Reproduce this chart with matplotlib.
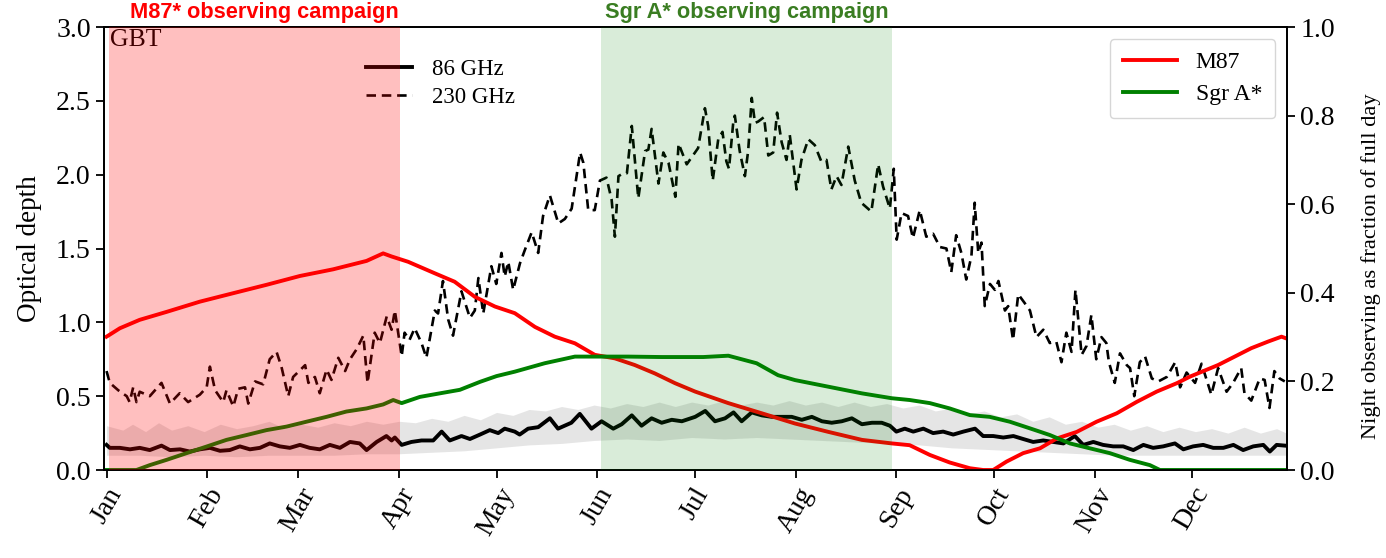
import matplotlib
matplotlib.use("Agg")
import matplotlib.pyplot as plt
import matplotlib.transforms as mtransforms
import numpy as np

plt.rcParams['font.family'] = ['Liberation Serif', 'DejaVu Serif']
plt.rcParams['mathtext.fontset'] = 'stix'

# ---------------- data ----------------
month_labels = ['Jan', 'Feb', 'Mar', 'Apr', 'May', 'Jun',
                'Jul', 'Aug', 'Sep', 'Oct', 'Nov', 'Dec']
month_days = [0, 31, 59, 90, 120, 151, 181, 212, 243, 273, 304, 334]

# 230 GHz optical depth (day of year, tau)
day230 = [0, 1.0, 3.6, 6.2, 7.1, 8.2, 9.2, 10.2, 13.3, 16.9,
          19.5, 22.5, 25.1, 28.7, 30.8, 31.8, 33.4, 35.9, 36.9, 39.0,
          40.5, 42.6, 43.6, 45.7, 48.2, 50.2, 52.3, 53.8, 55.9, 57.4,
          61.1, 62.1, 64.1, 65.6, 67.7, 69.2, 71.3, 73.4, 74.9, 77.0,
          79.0, 80.3, 82.5, 84.1, 86.2, 87.7, 88.7, 90.8, 91.7, 93.2,
          94.8, 96.9, 98.4, 101.0, 102.0, 103.5, 105.1, 106.6, 109.2, 111.8,
          113.3, 114.4, 115.9, 118.4, 119.9, 121.5, 122.5, 123.6, 125.1, 127.2,
          128.7, 130.8, 132.8, 134.3, 136.4, 139.0, 141.0, 143.1, 145.7, 146.7,
          148.2, 150.2, 151.8, 153.8, 155.4, 156.4, 157.5, 159.0, 160.1, 161.6,
          163.6, 165.7, 166.7, 167.7, 169.8, 171.3, 172.9, 175.0, 176.0, 178.5,
          182.0, 184.1, 185.1, 186.5, 188.2, 189.5, 190.7, 191.5, 192.8, 193.3,
          194.8, 196.4, 197.4, 198.5, 199.5, 200.5, 202.3, 203.6, 205.1, 206.3,
          207.7, 209.2, 210.2, 212.3, 213.8, 215.9, 217.9, 219.9, 221.5, 223.0,
          224.6, 226.1, 228.2, 230.2, 232.2, 235.3, 237.4, 238.9, 241.0, 242.2,
          243.1, 244.6, 246.6, 248.1, 250.2, 252.2, 254.3, 256.4, 258.4, 259.9,
          261.4, 263.0, 264.5, 266.1, 267.1, 268.2, 269.2, 270.2, 271.8, 273.3,
          274.4, 276.4, 277.4, 278.9, 280.5, 282.5, 284.1, 286.1, 288.2, 290.2,
          292.2, 293.8, 295.3, 296.9, 298.1, 300.0, 301.5, 303.0, 304.5, 306.1,
          307.6, 308.4, 310.2, 311.8, 313.9, 314.9, 316.2, 317.9, 319.5, 321.6,
          323.6, 326.2, 328.8, 330.3, 332.3, 334.9, 336.9, 339.9, 342.0, 344.6,
          346.6, 349.1, 350.1, 352.2, 354.8, 356.3, 357.8, 359.3, 360.9, 362.5]
tau230 = [0.67, 0.59, 0.54, 0.50, 0.46, 0.56, 0.46, 0.53, 0.50, 0.59,
          0.45, 0.52, 0.46, 0.51, 0.56, 0.70, 0.54, 0.46, 0.54, 0.43,
          0.55, 0.56, 0.45, 0.60, 0.58, 0.75, 0.80, 0.70, 0.50, 0.63,
          0.71, 0.59, 0.63, 0.52, 0.68, 0.61, 0.76, 0.67, 0.75, 0.82,
          0.91, 0.59, 0.93, 0.86, 1.04, 0.95, 1.08, 0.77, 0.93, 0.88,
          0.96, 0.86, 0.76, 1.08, 1.06, 1.28, 1.02, 0.91, 1.21, 1.03,
          1.08, 1.30, 1.06, 1.38, 1.26, 1.47, 1.31, 1.41, 1.22, 1.40,
          1.49, 1.61, 1.47, 1.72, 1.86, 1.67, 1.70, 1.77, 2.15, 2.08,
          1.76, 1.76, 1.96, 1.98, 1.83, 1.58, 1.99, 2.01, 2.01, 2.33,
          1.84, 2.16, 2.17, 2.31, 1.94, 2.15, 2.08, 1.85, 2.21, 2.07,
          2.18, 2.45, 2.33, 1.96, 2.24, 2.29, 2.09, 2.04, 2.35, 2.40,
          2.16, 1.99, 2.16, 2.52, 2.35, 2.36, 2.39, 2.13, 2.15, 2.42,
          2.22, 2.10, 2.27, 1.90, 2.10, 2.24, 2.20, 2.09, 2.10, 1.90,
          1.99, 1.93, 2.19, 1.96, 1.81, 1.75, 2.07, 1.92, 1.77, 2.04,
          1.56, 1.74, 1.72, 1.57, 1.76, 1.58, 1.60, 1.51, 1.50, 1.34,
          1.59, 1.47, 1.29, 1.45, 1.81, 1.47, 1.54, 1.11, 1.26, 1.22,
          1.28, 1.08, 1.11, 0.88, 1.19, 1.13, 1.08, 0.90, 0.95, 0.86,
          0.87, 0.73, 0.93, 0.80, 1.22, 0.78, 0.84, 1.05, 0.75, 0.90,
          0.86, 0.73, 0.59, 0.79, 0.71, 0.69, 0.50, 0.73, 0.77, 0.62,
          0.60, 0.63, 0.73, 0.56, 0.66, 0.59, 0.72, 0.51, 0.69, 0.53,
          0.59, 0.69, 0.52, 0.47, 0.62, 0.61, 0.42, 0.67, 0.62, 0.60]

# 86 GHz optical depth
day86 = [0, 1.0, 4.1, 7.2, 10.2, 13.3, 16.9, 19.5, 22.6, 25.6,
         28.7, 31.8, 34.9, 37.9, 41.0, 44.1, 47.2, 50.2, 53.3, 56.4,
         59.5, 62.5, 65.6, 68.7, 71.8, 74.9, 77.9, 80.0, 83.1, 86.1,
         87.7, 88.7, 90.8, 93.8, 96.9, 100.5, 103.1, 105.6, 109.2, 111.8,
         114.9, 117.9, 120.5, 122.5, 125.6, 127.1, 129.7, 132.8, 136.4, 138.9,
         143.0, 145.6, 149.2, 152.3, 155.9, 158.5, 161.6, 164.6, 167.7, 170.8,
         173.9, 177.0, 181.1, 184.2, 187.2, 190.3, 192.9, 195.4, 198.5, 201.6,
         204.7, 207.8, 210.8, 213.9, 217.0, 220.1, 223.1, 226.2, 229.3, 232.4,
         235.5, 238.5, 241.0, 243.0, 245.6, 248.2, 251.3, 254.3, 257.4, 260.5,
         263.6, 267.2, 269.7, 272.8, 275.9, 279.0, 282.0, 285.1, 288.2, 291.3,
         294.4, 297.9, 300.5, 303.6, 306.6, 309.7, 312.8, 315.9, 319.0, 322.0,
         325.1, 328.7, 331.3, 334.3, 337.4, 340.5, 343.6, 346.7, 349.7, 352.8,
         355.9, 357.9, 360.0, 362.6]
tau86 = [0.17, 0.15, 0.15, 0.14, 0.15, 0.135, 0.165, 0.135, 0.14, 0.125,
         0.14, 0.15, 0.13, 0.135, 0.16, 0.14, 0.15, 0.18, 0.16, 0.15,
         0.17, 0.15, 0.14, 0.17, 0.15, 0.19, 0.18, 0.135, 0.19, 0.23,
         0.20, 0.22, 0.17, 0.19, 0.20, 0.20, 0.26, 0.20, 0.23, 0.21,
         0.24, 0.27, 0.25, 0.28, 0.26, 0.24, 0.28, 0.29, 0.35, 0.28,
         0.32, 0.38, 0.28, 0.33, 0.28, 0.31, 0.37, 0.30, 0.35, 0.32,
         0.34, 0.33, 0.36, 0.40, 0.33, 0.35, 0.39, 0.33, 0.39, 0.37,
         0.36, 0.36, 0.36, 0.34, 0.36, 0.33, 0.32, 0.33, 0.35, 0.31,
         0.32, 0.32, 0.30, 0.26, 0.28, 0.26, 0.28, 0.25, 0.26, 0.24,
         0.26, 0.28, 0.23, 0.23, 0.22, 0.23, 0.21, 0.19, 0.20, 0.19,
         0.18, 0.23, 0.17, 0.19, 0.17, 0.16, 0.16, 0.135, 0.17, 0.15,
         0.16, 0.18, 0.14, 0.16, 0.17, 0.15, 0.15, 0.17, 0.135, 0.16,
         0.17, 0.125, 0.17, 0.165]

# 86 GHz spread (shaded band)
band_day_hi = [0, 5, 8, 12, 16, 20, 25, 30, 35, 40, 45, 50, 55, 60, 65, 70,
               75, 80, 85, 90, 95, 100, 105, 110, 115, 120, 125, 130, 135, 140,
               145, 150, 155, 160, 165, 170, 175, 180, 185, 190, 195, 200, 205,
               210, 215, 220, 225, 230, 235, 240, 245, 250, 255, 260, 265, 270,
               275, 280, 285, 290, 295, 300, 305, 310, 315, 320, 325, 330, 335,
               340, 345, 350, 355, 360, 363]
band_hi = [0.30, 0.27, 0.31, 0.26, 0.32, 0.27, 0.30, 0.26, 0.31, 0.28, 0.30,
           0.33, 0.28, 0.31, 0.29, 0.32, 0.30, 0.33, 0.31, 0.33, 0.32, 0.35,
           0.33, 0.37, 0.34, 0.39, 0.37, 0.41, 0.40, 0.43, 0.41, 0.44, 0.42,
           0.45, 0.43, 0.46, 0.43, 0.46, 0.44, 0.47, 0.44, 0.46, 0.44, 0.47,
           0.44, 0.46, 0.43, 0.46, 0.43, 0.45, 0.42, 0.44, 0.40, 0.42, 0.38,
           0.40, 0.36, 0.38, 0.33, 0.36, 0.31, 0.33, 0.29, 0.31, 0.27, 0.30,
           0.26, 0.29, 0.26, 0.28, 0.25, 0.29, 0.25, 0.28, 0.25]
band_day_lo = [0, 10, 20, 30, 40, 50, 60, 70, 80, 90, 100, 110, 120, 130, 140,
               150, 160, 170, 180, 190, 200, 210, 220, 230, 240, 250, 260, 270,
               280, 290, 300, 310, 320, 330, 340, 350, 363]
band_lo = [0.10, 0.10, 0.09, 0.10, 0.09, 0.10, 0.10, 0.10, 0.11, 0.11, 0.12,
           0.13, 0.15, 0.17, 0.18, 0.20, 0.21, 0.20, 0.22, 0.21, 0.22, 0.21,
           0.20, 0.19, 0.18, 0.17, 0.15, 0.14, 0.13, 0.12, 0.11, 0.10, 0.10,
           0.10, 0.10, 0.10, 0.10]

# night observing fraction
day_m87 = [0, 4.1, 10.2, 18.5, 28.7, 38.9, 49.2, 59.5, 69.7, 80.0,
           85.1, 87.7, 92.8, 101.0, 107.1, 113.3, 119.5, 125.6, 131.8, 137.9,
           144.1, 150.2, 156.4, 162.5, 168.7, 174.9, 181.1, 191.3, 201.6, 211.8,
           222.1, 232.4, 241.6, 247.1, 253.3, 259.4, 265.6, 269.7, 272.8, 276.9,
           282.0, 287.2, 292.3, 298.5, 304.6, 310.8, 317.0, 323.1, 329.3, 333.4,
           342.0, 352.2, 357.4, 361.5, 363.0]
frac_m87 = [0.301, 0.320, 0.339, 0.357, 0.380, 0.399, 0.418, 0.438, 0.453, 0.472,
            0.489, 0.482, 0.470, 0.444, 0.425, 0.391, 0.369, 0.354, 0.323, 0.301,
            0.286, 0.260, 0.252, 0.237, 0.218, 0.196, 0.177, 0.151, 0.128, 0.105,
            0.086, 0.068, 0.060, 0.056, 0.034, 0.017, 0.004, 0.0, 0.0, 0.019,
            0.038, 0.049, 0.071, 0.086, 0.109, 0.128, 0.154, 0.177, 0.196, 0.211,
            0.237, 0.275, 0.290, 0.301, 0.297]
day_sgra = [0, 9.2, 13.3, 18.5, 24.6, 30.8, 36.9, 43.1, 49.2, 55.4,
            61.5, 67.7, 73.8, 80.0, 85.1, 88.2, 90.8, 96.4, 102.5, 108.7,
            114.9, 120.0, 125.6, 134.8, 144.1, 150.2, 160.5, 170.8, 183.6, 191.3,
            200.0, 206.6, 211.8, 222.1, 232.4, 241.6, 247.1, 253.3, 259.4, 265.6,
            271.7, 277.9, 284.1, 290.2, 296.4, 302.5, 308.7, 314.8, 321.0, 324.1,
            363.0]
frac_sgra = [0, 0, 0.011, 0.023, 0.038, 0.053, 0.068, 0.079, 0.090, 0.098,
             0.109, 0.120, 0.132, 0.139, 0.148, 0.158, 0.151, 0.165, 0.173, 0.181,
             0.199, 0.212, 0.222, 0.241, 0.256, 0.256, 0.256, 0.255, 0.255, 0.258,
             0.241, 0.214, 0.203, 0.188, 0.173, 0.162, 0.158, 0.151, 0.139, 0.124,
             0.120, 0.109, 0.094, 0.079, 0.060, 0.049, 0.038, 0.023, 0.011, 0,
             0]

m87_campaign = (0.7, 90.2)
sgra_campaign = (152.1, 241.6)

# ---------------- figure ----------------
fig = plt.figure(figsize=(13.86, 5.58), dpi=100)
ax = fig.add_axes([0.075, 0.1577, 0.8536, 0.7939])

grid = np.arange(0, 363.5, 0.5)
ax.fill_between(grid, np.interp(grid, band_day_lo, band_lo),
                np.interp(grid, band_day_hi, band_hi),
                color='gray', alpha=0.2, lw=0)
l86, = ax.plot(day86, tau86, color='black', lw=2.8, label='86 GHz')
l230, = ax.plot(day230, tau230, color='black', lw=1.9, ls=(0, (3.6, 2.2)),
                label='230 GHz')
ax.set_xlim(-0.8, 363.2)
ax.set_ylim(0, 3.0)
ax.set_yticks(np.arange(0, 3.01, 0.5))
ax.set_yticklabels(['%.1f' % v for v in np.arange(0, 3.01, 0.5)])
ax.set_xticks(month_days)
ax.set_xticklabels(month_labels, rotation=60)
ax.set_ylabel('Optical depth', fontsize=19.5, labelpad=10)
ax.tick_params(axis='both', labelsize=20, direction='out', length=6, width=1.3)
ax.text(0.005, 0.995, 'GBT', transform=ax.transAxes, ha='left', va='top',
        fontsize=18.5, color='black')
leg1 = ax.legend(handles=[l86, l230], loc='upper left',
                 bbox_to_anchor=(0.204, 0.975), frameon=False, fontsize=16.5,
                 handlelength=2.0, labelspacing=0.3, handletextpad=0.9)

ax2 = ax.twinx()
lm, = ax2.plot(day_m87, frac_m87, color='red', lw=2.8, label='M87',
               solid_joinstyle='round')
ls_, = ax2.plot(day_sgra, frac_sgra, color='green', lw=2.8, label='Sgr A*',
                solid_joinstyle='round')
ax2.axvspan(*m87_campaign, color='red', alpha=0.25, lw=0, zorder=3)
ax2.axvspan(*sgra_campaign, color='green', alpha=0.15, lw=0, zorder=3)
ax2.set_ylim(0, 1.0)
ax2.set_yticks(np.arange(0, 1.01, 0.2))
ax2.set_yticklabels(['%.1f' % v for v in np.arange(0, 1.01, 0.2)])
ax2.tick_params(axis='y', labelsize=20, direction='out', length=6, width=1.3)
ax2.set_ylabel('Night observing as fraction of full day', fontsize=16.2)
ax2.yaxis.set_label_coords(1.0625, 0.46)
ax2.legend(handles=[lm, ls_], loc='upper right', fontsize=17,
           handlelength=2.3, borderpad=0.55, labelspacing=0.45,
           framealpha=0.8, edgecolor='#cccccc')

for a in (ax, ax2):
    for sp in a.spines.values():
        sp.set_linewidth(1.3)

trans = mtransforms.blended_transform_factory(ax.transData, ax.transAxes)
ax2.text(sum(m87_campaign) / 2 + 3, 1.008, 'M87* observing campaign',
         transform=trans, ha='center', va='bottom', fontsize=15.7,
         color='red', fontweight='bold', family='Liberation Sans')
ax2.text(sum(sgra_campaign) / 2, 1.008, 'Sgr A* observing campaign',
         transform=trans, ha='center', va='bottom', fontsize=15.7,
         color='#3a7d22', fontweight='bold', family='Liberation Sans')

fig.savefig('out.png', dpi=100)
